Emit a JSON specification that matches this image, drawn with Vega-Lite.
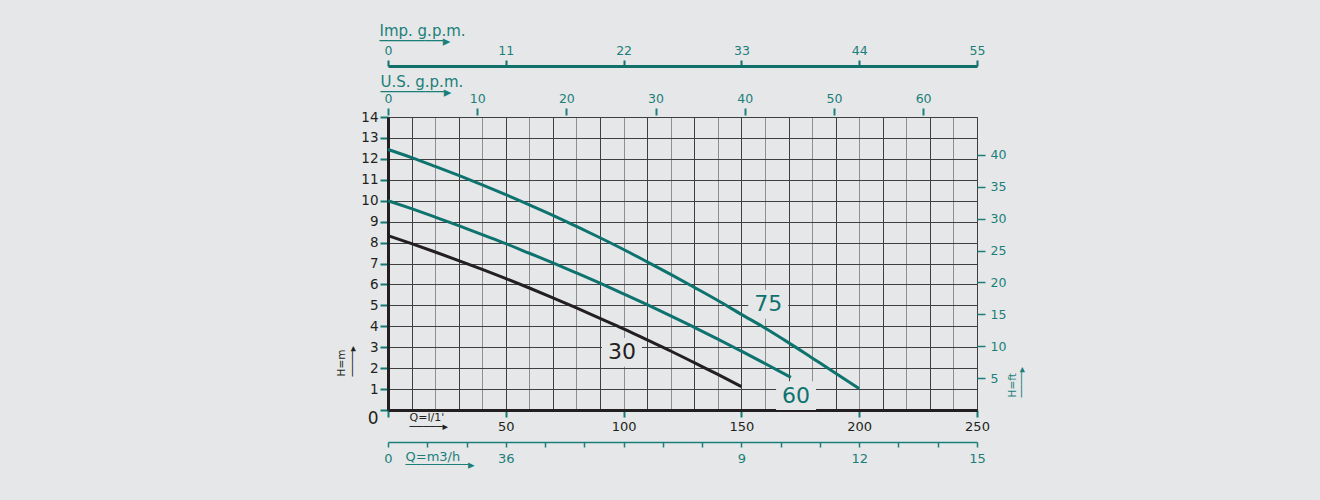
{
  "$schema": "https://vega.github.io/schema/vega-lite/v6.json",
  "width": 589,
  "height": 293,
  "autosize": "none",
  "padding": {"left": 388, "top": 117, "right": 343, "bottom": 90},
  "background": "#e6e7e8",
  "config": {
    "view": {"stroke": "#3c3c3c", "strokeWidth": 1},
    "axis": {
      "labelFont": "DejaVu Sans",
      "titleFont": "DejaVu Sans",
      "titleFontWeight": "normal",
      "labelFlush": false,
      "labelOverlap": false,
      "labelBound": false,
      "grid": false,
      "titlePadding": 0
    }
  },
  "datasets": {
    "curves": [
      {"curve": "30", "Q": 0, "H": 8.33},
      {"curve": "30", "Q": 10, "H": 7.95},
      {"curve": "30", "Q": 20, "H": 7.55},
      {"curve": "30", "Q": 30, "H": 7.14},
      {"curve": "30", "Q": 40, "H": 6.72},
      {"curve": "30", "Q": 50, "H": 6.28},
      {"curve": "30", "Q": 60, "H": 5.83},
      {"curve": "30", "Q": 70, "H": 5.36},
      {"curve": "30", "Q": 80, "H": 4.88},
      {"curve": "30", "Q": 90, "H": 4.38},
      {"curve": "30", "Q": 100, "H": 3.88},
      {"curve": "30", "Q": 110, "H": 3.35},
      {"curve": "30", "Q": 120, "H": 2.82},
      {"curve": "30", "Q": 130, "H": 2.26},
      {"curve": "30", "Q": 140, "H": 1.7},
      {"curve": "30", "Q": 150, "H": 1.12},
      {"curve": "60", "Q": 0, "H": 10.0},
      {"curve": "60", "Q": 10, "H": 9.62},
      {"curve": "60", "Q": 20, "H": 9.22},
      {"curve": "60", "Q": 30, "H": 8.81},
      {"curve": "60", "Q": 40, "H": 8.38},
      {"curve": "60", "Q": 50, "H": 7.95},
      {"curve": "60", "Q": 60, "H": 7.49},
      {"curve": "60", "Q": 70, "H": 7.03},
      {"curve": "60", "Q": 80, "H": 6.55},
      {"curve": "60", "Q": 90, "H": 6.06},
      {"curve": "60", "Q": 100, "H": 5.55},
      {"curve": "60", "Q": 110, "H": 5.03},
      {"curve": "60", "Q": 120, "H": 4.5},
      {"curve": "60", "Q": 130, "H": 3.95},
      {"curve": "60", "Q": 140, "H": 3.39},
      {"curve": "60", "Q": 150, "H": 2.81},
      {"curve": "60", "Q": 160, "H": 2.22},
      {"curve": "60", "Q": 171, "H": 1.56},
      {"curve": "75", "Q": 0, "H": 12.45},
      {"curve": "75", "Q": 10, "H": 12.06},
      {"curve": "75", "Q": 20, "H": 11.64},
      {"curve": "75", "Q": 30, "H": 11.21},
      {"curve": "75", "Q": 40, "H": 10.76},
      {"curve": "75", "Q": 50, "H": 10.29},
      {"curve": "75", "Q": 60, "H": 9.8},
      {"curve": "75", "Q": 70, "H": 9.3},
      {"curve": "75", "Q": 80, "H": 8.77},
      {"curve": "75", "Q": 90, "H": 8.23},
      {"curve": "75", "Q": 100, "H": 7.67},
      {"curve": "75", "Q": 110, "H": 7.08},
      {"curve": "75", "Q": 120, "H": 6.48},
      {"curve": "75", "Q": 130, "H": 5.86},
      {"curve": "75", "Q": 140, "H": 5.23},
      {"curve": "75", "Q": 150, "H": 4.57},
      {"curve": "75", "Q": 160, "H": 3.92},
      {"curve": "75", "Q": 170, "H": 3.22},
      {"curve": "75", "Q": 180, "H": 2.49},
      {"curve": "75", "Q": 190, "H": 1.76},
      {"curve": "75", "Q": 200, "H": 1.02}
    ],
    "labels": [
      {"curve": "75", "Q": 161.4, "H": 5.05},
      {"curve": "60", "Q": 173.2, "H": 0.69},
      {"curve": "30", "Q": 99.3, "H": 2.75}
    ]
  },
  "layer": [
    {
      "data": {"name": "labels"},
      "mark": {"type": "point", "shape": "M-1,-0.72H1V0.72H-1Z", "size": 1600, "filled": true, "fill": "#e6e7e8", "opacity": 1, "strokeWidth": 0},
      "encoding": {
        "x": {"field": "Q", "type": "quantitative", "scale": {"domain": [0, 250], "nice": false, "zero": false}, "axis": null},
        "y": {"field": "H", "type": "quantitative", "scale": {"domain": [0, 14], "nice": false, "zero": false}, "axis": null}
      }
    },
    {
      "data": {"name": "curves"},
      "mark": {"type": "line", "strokeWidth": 3, "interpolate": "monotone"},
      "encoding": {
        "x": {
          "field": "Q", "type": "quantitative",
          "scale": {"domain": [0, 250], "nice": false, "zero": false},
          "axis": {
            "orient": "bottom",
            "values": [0,10,20,30,40,50,60,70,80,90,100,110,120,130,140,150,160,170,180,190,200,210,220,230,240,250],
            "format": "d",
            "grid": true,
            "gridColor": {"condition": {"test": "datum.value % 20 == 0", "value": "#8f8f8f"}, "value": "#3f3f3f"},
            "gridWidth": 1,
            "domainColor": "#231f20", "domainWidth": 3,
            "tickColor": "#137a75", "tickWidth": 2, "tickSize": 7,
            "tickOpacity": {"condition": {"test": "datum.value % 50 == 0", "value": 1}, "value": 0},
            "labelExpr": "datum.value % 50 == 0 && datum.value > 0 ? datum.label : ''",
            "labelColor": "#231f20", "labelFontSize": 13, "labelPadding": 3,
            "title": ["Q=l/1'", "─────▸"],
            "titleX": 21, "titleY": 10, "titleAlign": "left", "titleBaseline": "alphabetic", "titleAngle": 0,
            "titleFontSize": 11, "titleLineHeight": 9, "titleColor": "#231f20"
          }
        },
        "y": {
          "field": "H", "type": "quantitative",
          "scale": {"domain": [0, 14], "nice": false, "zero": false},
          "axis": {
            "orient": "left",
            "values": [0,0.5,1,1.5,2,2.5,3,3.5,4,4.5,5,5.5,6,6.5,7,7.5,8,8.5,9,9.5,10,10.5,11,11.5,12,12.5,13,13.5,14],
            "format": "d",
            "grid": true,
            "gridColor": {"condition": {"test": "datum.value % 1 != 0", "value": "#8f8f8f"}, "value": "#3f3f3f"},
            "gridWidth": 1,
            "domainColor": "#231f20", "domainWidth": 3,
            "tickColor": "#137a75", "tickWidth": 2, "tickSize": 8,
            "tickOpacity": {"condition": {"test": "datum.value % 1 == 0", "value": 1}, "value": 0},
            "labelExpr": "datum.value % 1 == 0 ? datum.label : ''",
            "labelColor": "#231f20",
            "labelFontSize": {"condition": {"test": "datum.value == 0", "value": 17}, "value": 13.5},
            "labelBaseline": {"condition": {"test": "datum.value == 0", "value": "top"}, "value": "middle"},
            "labelPadding": 2,
            "title": ["H=m", "────▸"],
            "titleX": -44, "titleY": 259, "titleAlign": "left", "titleBaseline": "alphabetic", "titleAngle": 270,
            "titleFontSize": 10.5, "titleLineHeight": 11, "titleColor": "#231f20"
          }
        },
        "color": {
          "field": "curve", "type": "nominal",
          "scale": {"domain": ["30", "60", "75"], "range": ["#231f20", "#0e736e", "#0e736e"]},
          "legend": null
        }
      }
    },
    {
      "data": {"name": "labels"},
      "mark": {"type": "text", "font": "DejaVu Sans", "fontSize": 22, "align": "center", "baseline": "middle"},
      "encoding": {
        "x": {"field": "Q", "type": "quantitative", "scale": {"domain": [0, 250], "nice": false, "zero": false}, "axis": null},
        "y": {"field": "H", "type": "quantitative", "scale": {"domain": [0, 14], "nice": false, "zero": false}, "axis": null},
        "text": {"field": "curve", "type": "nominal"},
        "color": {"field": "curve", "type": "nominal", "scale": {"domain": ["30", "60", "75"], "range": ["#231f20", "#0e736e", "#0e736e"]}, "legend": null}
      }
    },
    {
      "data": {"name": "curves"},
      "mark": {"type": "line", "strokeOpacity": 0},
      "encoding": {
        "x": {
          "field": "Q", "type": "quantitative",
          "scale": {"domain": [0, 250], "nice": false, "zero": false},
          "axis": {
            "orient": "bottom", "offset": 32,
            "values": [0,16.6667,33.3333,50,66.6667,83.3333,100,116.6667,133.3333,150,166.6667,183.3333,200,216.6667,233.3333,250],
            "domainColor": "#1a7f7a", "domainWidth": 1.5,
            "tickColor": "#1a7f7a", "tickWidth": 1.5, "tickSize": 5,
            "labelExpr": "round(datum.value*0.06) == 3 ? '36' : ((round(datum.value*0.06) % 3 == 0 && round(datum.value*0.06) != 6) ? '' + round(datum.value*0.06) : '')",
            "labelColor": "#1a7f7a", "labelFontSize": 13, "labelPadding": 5,
            "title": ["Q=m3/h", "────────▸"],
            "titleX": 17, "titleY": 18, "titleAlign": "left", "titleBaseline": "alphabetic", "titleAngle": 0,
            "titleFontSize": 13, "titleLineHeight": 8, "titleColor": "#1a7f7a"
          }
        },
        "y": {"field": "H", "type": "quantitative", "scale": {"domain": [0, 14], "nice": false, "zero": false}, "axis": null}
      }
    },
    {
      "data": {"name": "curves"},
      "mark": {"type": "line", "strokeOpacity": 0},
      "encoding": {
        "x": {
          "field": "Q", "type": "quantitative",
          "scale": {"domain": [0, 250], "nice": false, "zero": false},
          "axis": {
            "orient": "top", "offset": 2,
            "values": [0, 37.8541, 75.7082, 113.5624, 151.4165, 189.2706, 227.1247],
            "domain": false,
            "tickColor": "#1a7f7a", "tickWidth": 2, "tickSize": 7,
            "labelExpr": "'' + round(datum.value/3.785411784)",
            "labelColor": "#1a7f7a", "labelFontSize": 12.5, "labelPadding": 3,
            "title": ["U.S. g.p.m.", "───────▸"],
            "titleX": -8, "titleY": -29, "titleAlign": "left", "titleBaseline": "alphabetic", "titleAngle": 0,
            "titleFontSize": 15, "titleLineHeight": 10.5, "titleColor": "#1a7f7a"
          }
        },
        "y": {
          "field": "H", "type": "quantitative",
          "scale": {"domain": [0, 14], "nice": false, "zero": false},
          "axis": {
            "orient": "right",
            "values": [1.524, 3.048, 4.572, 6.096, 7.62, 9.144, 10.668, 12.192],
            "domain": false,
            "tickColor": "#1a7f7a", "tickWidth": 1.5, "tickSize": 8,
            "labelExpr": "'' + round(datum.value/0.3048)",
            "labelColor": "#1a7f7a", "labelFontSize": 12.5, "labelPadding": 5,
            "title": ["H=ft", "────▸"],
            "titleX": 38, "titleY": 280, "titleAlign": "left", "titleBaseline": "alphabetic", "titleAngle": 270,
            "titleFontSize": 10.5, "titleLineHeight": 9, "titleColor": "#1a7f7a"
          }
        }
      }
    },
    {
      "data": {"name": "curves"},
      "mark": {"type": "line", "strokeOpacity": 0},
      "encoding": {
        "x": {
          "field": "Q", "type": "quantitative",
          "scale": {"domain": [0, 250], "nice": false, "zero": false},
          "axis": {
            "orient": "top", "offset": 51,
            "values": [0, 50, 100, 150, 200, 250],
            "domainColor": "#12706b", "domainWidth": 3,
            "tickColor": "#12706b", "tickWidth": 2, "tickSize": 6,
            "labelExpr": "'' + round(datum.value/4.54609)",
            "labelColor": "#1a7f7a", "labelFontSize": 12.5, "labelPadding": 3,
            "title": ["Imp. g.p.m.", "───────▸"],
            "titleX": -9, "titleY": -31, "titleAlign": "left", "titleBaseline": "alphabetic", "titleAngle": 0,
            "titleFontSize": 15, "titleLineHeight": 10.5, "titleColor": "#1a7f7a"
          }
        },
        "y": {"field": "H", "type": "quantitative", "scale": {"domain": [0, 14], "nice": false, "zero": false}, "axis": null}
      }
    }
  ],
  "resolve": {"scale": {"x": "independent", "y": "independent"}}
}
